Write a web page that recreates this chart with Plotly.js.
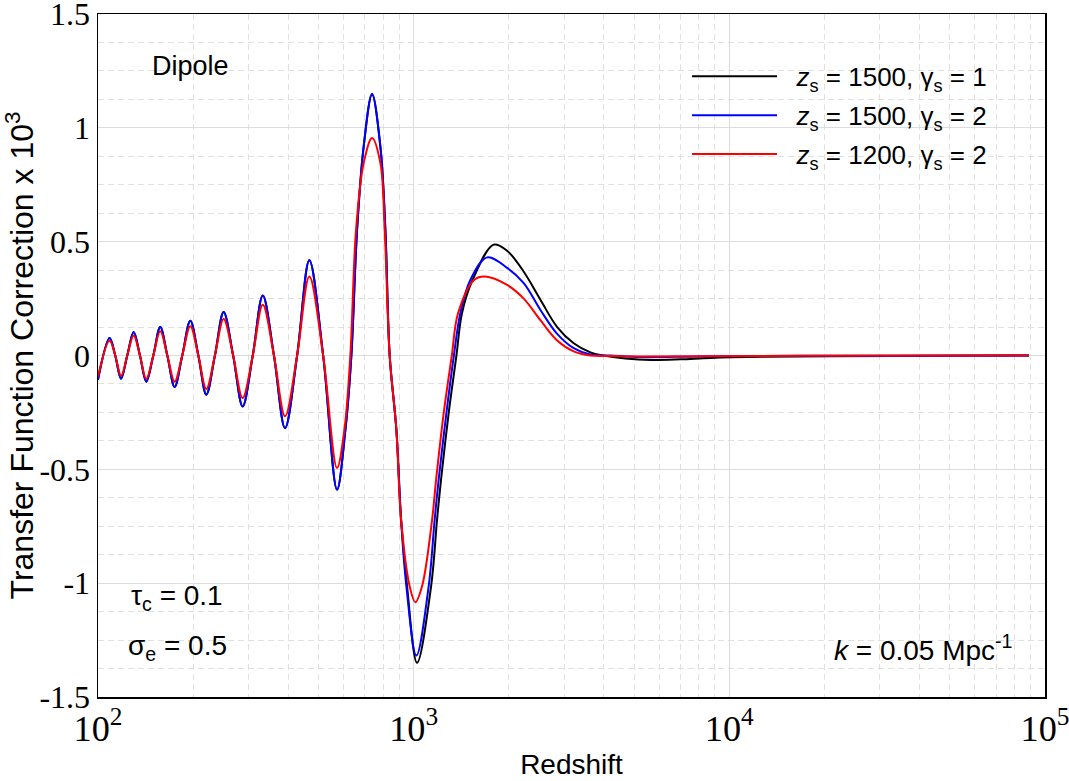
<!DOCTYPE html>
<html>
<head>
<meta charset="utf-8">
<script src="https://cdn.plot.ly/plotly-3.0.1.min.js"></script>
<style>html,body{margin:0;padding:0;background:#fff;}#chart{width:1069px;height:781px;}</style>
</head>
<body>
<div id="chart"></div>
<script>
// Oscillation region shared by all curves (redshift)
var zOsc = [100, 108.8, 113.4, 118.3, 123.8, 129.7, 135.8, 142.2, 149.7, 157.5, 165.8, 174.9, 184.9, 196.1, 207.9, 220.4, 234.6, 250.0, 268.0, 287.2, 309.2, 332.7, 360.9, 391.3, 427.4, 467.2, 516.7, 571.7];
var yOscBlue = [-0.106, 0.077, 0, -0.102, 0, 0.103, 0, -0.115, 0, 0.125, 0, -0.138, 0, 0.153, 0, -0.172, 0, 0.191, 0, -0.224, 0, 0.263, 0, -0.319, 0, 0.418, 0, -0.589];
var yOscRed  = [-0.093, 0.065, 0, -0.089, 0, 0.088, 0, -0.103, 0, 0.106, 0, -0.115, 0, 0.128, 0, -0.147, 0, 0.160, 0, -0.187, 0, 0.223, 0, -0.267, 0, 0.347, 0, -0.494];

// z_s = 1500, gamma_s = 2 (blue) beyond the oscillations
var zTailBlue = [607.8, 634.8, 661.8, 694.4, 738.2, 784.4, 813.5, 839.5, 881.5, 912.3, 948.3, 1020, 1115.6, 1165.5, 1200, 1269.6, 1341, 1406, 1513, 1709, 1977, 2232, 2521, 2848, 3214, 3630, 4201, 5228, 8096, 16800, 88860];
var yTailBlue = [-0.326, 0, 0.553, 0.918, 1.150, 0.918, 0.553, 0, -0.326, -0.721, -1.014, -1.318, -1.014, -0.721, -0.545, -0.253, 0, 0.187, 0.333, 0.431, 0.385, 0.318, 0.200, 0.095, 0.032, 0.004, 0, -0.007, -0.004, -0.001, 0];

// z_s = 1500, gamma_s = 1 (black)
var zTailBlack = [607.8, 634.8, 661.8, 694.4, 738.2, 784.4, 813.5, 839.5, 881.5, 912.3, 953.1, 1025, 1135.5, 1186, 1221, 1291, 1366, 1423, 1538, 1793, 1977, 2232, 2521, 2848, 3214, 3630, 3991, 4687, 5623, 7009, 8711, 12550, 20910, 50200, 88860];
var yTailBlack = [-0.326, 0, 0.553, 0.918, 1.146, 0.918, 0.553, 0, -0.326, -0.721, -1.014, -1.350, -1.014, -0.721, -0.545, -0.253, 0, 0.187, 0.333, 0.487, 0.460, 0.368, 0.245, 0.125, 0.054, 0.014, 0, -0.013, -0.020, -0.017, -0.011, -0.006, -0.003, -0.001, 0];

// z_s = 1200, gamma_s = 2 (red)
var zTailRed = [603.3, 630, 656.9, 694.4, 738.2, 784.4, 809.4, 839.5, 881.5, 912.3, 971.2, 1012.5, 1063, 1144, 1178, 1245, 1321, 1383, 1557, 1684, 1977, 2232, 2521, 2848, 3214, 3630, 4201, 5228, 8096, 16800, 88860];
var yTailRed = [-0.326, 0, 0.553, 0.845, 0.955, 0.845, 0.553, 0, -0.326, -0.721, -1.014, -1.084, -1.014, -0.721, -0.545, -0.253, 0, 0.187, 0.333, 0.347, 0.310, 0.250, 0.155, 0.066, 0.018, 0.0, -0.002, -0.004, -0.003, -0.001, 0];

var seriesNames = [
  '\u00a0\u00a0<i>z</i><sub>s</sub> = 1500, γ<sub>s</sub> = 1',
  '\u00a0\u00a0<i>z</i><sub>s</sub> = 1500, γ<sub>s</sub> = 2',
  '\u00a0\u00a0<i>z</i><sub>s</sub> = 1200, γ<sub>s</sub> = 2'
];
var seriesColors = ['#000000', '#0000ff', '#ff0000'];

var yTickVals = [-1.5, -1, -0.5, 0, 0.5, 1, 1.5];
var yTickText = ['-1.5', '-1', '-0.5', '0', '0.5', '1', '1.5'];

function mk(zs, ys, i) {
  return {
    x: zs, y: ys, type: 'scatter', mode: 'lines', name: seriesNames[i],
    legendgroup: 'g' + i,
    line: {color: seriesColors[i], width: 2, shape: 'spline', smoothing: 1},
    hoverinfo: 'x+y'
  };
}

var traces = [
  mk(zOsc.concat(zTailBlack), yOscBlue.concat(yTailBlack), 0),
  mk(zOsc.concat(zTailBlue), yOscBlue.concat(yTailBlue), 1),
  mk(zOsc.concat(zTailRed), yOscRed.concat(yTailRed), 2)
];

var sans = 'Liberation Sans, Arial, Helvetica, sans-serif';
var serif = 'Liberation Serif, Times New Roman, serif';

var layout = {
  width: 1069, height: 781,
  margin: {l: 98, r: 24, t: 14, b: 84},
  paper_bgcolor: '#ffffff', plot_bgcolor: '#ffffff',
  showlegend: true,
  legend: {
    x: 0.622, y: 0.943, xanchor: 'left', yanchor: 'top',
    bgcolor: 'rgba(255,255,255,0)', borderwidth: 0,
    font: {family: sans, size: 26, color: '#000'},
    itemwidth: 85, tracegroupgap: 2
  },
  xaxis: {
    type: 'log', range: [2, 5], dtick: 1, exponentformat: 'power',
    showline: true, linecolor: '#000', linewidth: 1.5, mirror: true,
    ticks: '', zeroline: false, ticklabeloverflow: 'allow',
    showgrid: true, gridcolor: '#dcdcdc', gridwidth: 1,
    minor: {dtick: 'D1', showgrid: true, gridcolor: '#e0e0e0', griddash: '6px,4px', gridwidth: 1, ticks: ''},
    tickfont: {family: serif, size: 29, color: '#000'},
    title: {text: 'Redshift', font: {family: sans, size: 28, color: '#000'}, standoff: 7}
  },
  yaxis: {
    range: [-1.5, 1.5], tickvals: yTickVals, ticktext: yTickText,
    showline: true, linecolor: '#000', linewidth: 1.5, mirror: true,
    ticks: '', zeroline: false, ticklabeloverflow: 'allow',
    showgrid: true, gridcolor: '#dcdcdc', gridwidth: 1,
    minor: {dtick: 0.125, showgrid: true, gridcolor: '#e0e0e0', griddash: '6px,4px', gridwidth: 1, ticks: ''},
    tickfont: {family: serif, size: 32, color: '#000'},
    title: {text: 'Transfer Function Correction x 10<sup>3</sup>', font: {family: sans, size: 32, color: '#000'}, standoff: 8}
  },
  annotations: [
    {text: 'Dipole', xref: 'paper', yref: 'paper', x: 0.0975, y: 0.924, xanchor: 'center', yanchor: 'middle', showarrow: false, font: {family: sans, size: 27, color: '#000'}},
    {text: 'τ<sub>c</sub> = 0.1', xref: 'paper', yref: 'paper', x: 0.0838, y: 0.145, xanchor: 'center', yanchor: 'middle', showarrow: false, font: {family: sans, size: 28, color: '#000'}},
    {text: 'σ<sub>e</sub> = 0.5', xref: 'paper', yref: 'paper', x: 0.0838, y: 0.072, xanchor: 'center', yanchor: 'middle', showarrow: false, font: {family: sans, size: 28, color: '#000'}},
    {text: '<i>k</i> = 0.05 Mpc<sup>-1</sup>', xref: 'paper', yref: 'paper', x: 0.872, y: 0.072, xanchor: 'center', yanchor: 'middle', showarrow: false, font: {family: sans, size: 28, color: '#000'}}
  ]
};

Plotly.newPlot('chart', traces, layout, {displayModeBar: false, staticPlot: true});
</script>
</body>
</html>
